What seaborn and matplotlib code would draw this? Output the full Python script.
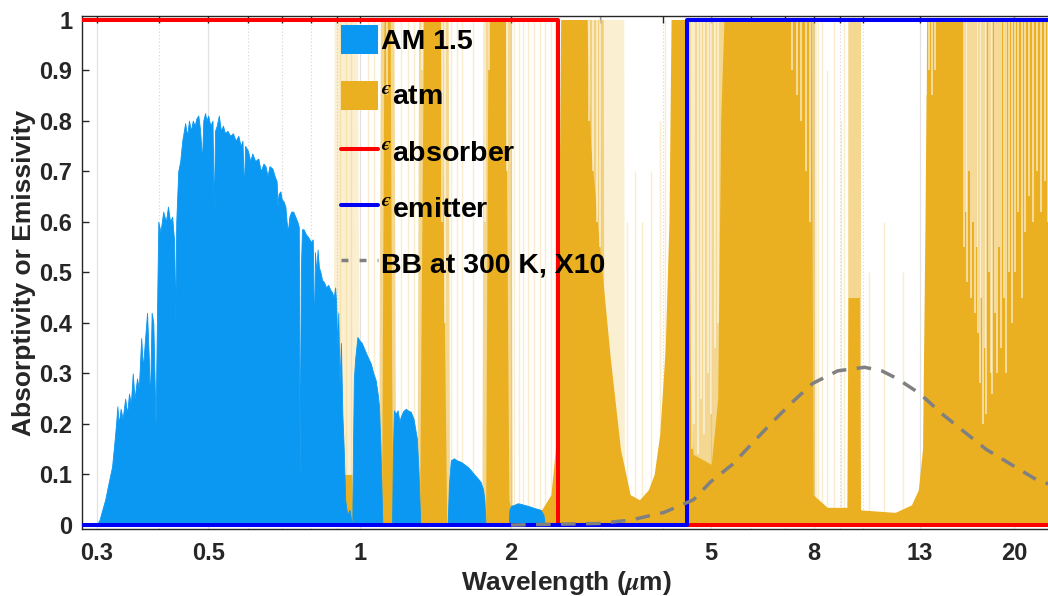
import numpy as np
import matplotlib
matplotlib.use("Agg")
import matplotlib.pyplot as plt
import seaborn as sns
from matplotlib.patches import Patch
from matplotlib.lines import Line2D

# ---------------- data ----------------
am_wl = [0.280, 0.300, 0.304, 0.312, 0.318, 0.322, 0.326, 0.328, 0.330, 0.332, 0.335, 0.338,
         0.342, 0.345, 0.348, 0.351, 0.354, 0.357, 0.361, 0.364, 0.368, 0.371, 0.374, 0.378,
         0.381, 0.383, 0.386, 0.389, 0.391, 0.393, 0.396, 0.398, 0.402, 0.407, 0.412, 0.416,
         0.420, 0.424, 0.428, 0.430, 0.432, 0.436, 0.440, 0.444, 0.450, 0.454, 0.458, 0.462,
         0.466, 0.470, 0.474, 0.478, 0.482, 0.486, 0.489, 0.493, 0.496, 0.500, 0.505, 0.510,
         0.513, 0.516, 0.520, 0.525, 0.530, 0.535, 0.540, 0.546, 0.553, 0.560, 0.567, 0.574,
         0.580, 0.585, 0.589, 0.592, 0.600, 0.606, 0.612, 0.620, 0.629, 0.636, 0.644, 0.650,
         0.656, 0.662, 0.671, 0.678, 0.684, 0.687, 0.690, 0.696, 0.700, 0.706, 0.712, 0.716,
         0.720, 0.725, 0.731, 0.738, 0.745, 0.752, 0.757, 0.760, 0.764, 0.768, 0.774, 0.782,
         0.790, 0.800, 0.807, 0.812, 0.815, 0.820, 0.825, 0.830, 0.836, 0.842, 0.850, 0.858,
         0.866, 0.875, 0.882, 0.888, 0.894, 0.898, 0.903, 0.907, 0.912, 0.918, 0.924, 0.930,
         0.936, 0.945, 0.955, 0.962, 0.967, 0.970, 0.974, 0.980, 0.990, 1.000, 1.010, 1.020,
         1.035, 1.052, 1.065, 1.076, 1.086, 1.093, 1.100, 1.106, 1.110, 1.160, 1.165, 1.170,
         1.180, 1.190, 1.200, 1.207, 1.220, 1.235, 1.250, 1.264, 1.280, 1.290, 1.300, 1.310,
         1.320, 1.496, 1.505, 1.518, 1.540, 1.560, 1.590, 1.615, 1.640, 1.665, 1.690, 1.715,
         1.740, 1.760, 1.770, 1.780, 1.980, 1.985, 2.000, 2.030, 2.060, 2.090, 2.120, 2.160,
         2.220, 2.290, 2.320, 2.335, 23.6]
am_val = [0.0, 0.0, 0.01, 0.05, 0.09, 0.115, 0.17, 0.20, 0.235, 0.20, 0.23, 0.21,
          0.25, 0.22, 0.26, 0.24, 0.30, 0.25, 0.29, 0.27, 0.37, 0.31, 0.36, 0.42,
          0.33, 0.24, 0.42, 0.40, 0.30, 0.20, 0.45, 0.60, 0.58, 0.62, 0.60, 0.63,
          0.60, 0.61, 0.56, 0.40, 0.60, 0.70, 0.72, 0.76, 0.795, 0.77, 0.80, 0.78,
          0.80, 0.79, 0.805, 0.81, 0.78, 0.72, 0.80, 0.815, 0.80, 0.81, 0.79, 0.80,
          0.62, 0.78, 0.79, 0.81, 0.78, 0.79, 0.775, 0.78, 0.77, 0.775, 0.76, 0.77,
          0.75, 0.76, 0.66, 0.75, 0.74, 0.72, 0.735, 0.72, 0.725, 0.70, 0.715, 0.71,
          0.69, 0.71, 0.705, 0.69, 0.68, 0.63, 0.655, 0.66, 0.645, 0.64, 0.63, 0.60,
          0.58, 0.61, 0.62, 0.62, 0.61, 0.60, 0.59, 0.09, 0.50, 0.585, 0.585, 0.575,
          0.57, 0.56, 0.565, 0.36, 0.54, 0.50, 0.545, 0.51, 0.50, 0.485, 0.48, 0.47,
          0.475, 0.465, 0.46, 0.45, 0.47, 0.44, 0.35, 0.42, 0.28, 0.36, 0.22, 0.15,
          0.05, 0.02, 0.03, 0.01, 0.0, 0.15, 0.29, 0.33, 0.372, 0.365, 0.36, 0.35,
          0.335, 0.32, 0.30, 0.287, 0.26, 0.234, 0.155, 0.06, 0.0, 0.0, 0.15, 0.227,
          0.22, 0.227, 0.205, 0.214, 0.225, 0.23, 0.226, 0.224, 0.21, 0.19, 0.17, 0.10,
          0.0, 0.0, 0.08, 0.128, 0.132, 0.128, 0.125, 0.12, 0.115, 0.108, 0.10, 0.093,
          0.085, 0.07, 0.05, 0.0, 0.0, 0.03, 0.038, 0.04, 0.043, 0.042, 0.04, 0.038,
          0.034, 0.03, 0.02, 0.0, 0.0]

# atmospheric emissivity: opaque (solid) level
atm_wl = [0.28, 0.895, 0.900, 0.965, 0.970, 1.105, 1.112, 1.118, 1.150, 1.158, 1.165,
          1.315, 1.325, 1.340, 1.450, 1.470, 1.490, 1.780, 1.790, 1.800, 1.950, 1.965,
          1.980, 2.000, 2.300, 2.400, 2.450, 2.490, 2.510, 2.830, 2.880, 3.000, 3.150,
          3.300, 3.450, 3.600, 3.750, 3.850, 3.950, 4.050, 4.120, 4.160, 4.500, 4.540,
          4.600, 5.000, 5.150, 5.220, 5.300, 7.900, 7.970, 8.500, 9.300, 9.350, 9.850,
          9.900, 11.60, 12.50, 12.90, 13.15, 13.30, 13.40, 23.6]
atm_val = [0.0, 0.0, 0.10, 0.10, 0.0, 0.0, 0.5, 1.0, 1.0, 0.3, 0.0,
           0.0, 0.4, 1.0, 1.0, 0.5, 0.0, 0.0, 0.5, 1.0, 1.0, 0.5,
           0.05, 0.03, 0.03, 0.06, 0.15, 0.6, 1.0, 1.0, 0.75, 0.55, 0.33,
           0.15, 0.06, 0.05, 0.07, 0.10, 0.18, 0.35, 0.6, 1.0, 1.0, 0.3,
           0.14, 0.12, 0.25, 0.8, 1.0, 1.0, 0.06, 0.035, 0.035, 0.45, 0.45,
           0.03, 0.025, 0.04, 0.07, 0.15, 0.6, 1.0, 1.0]

# atmospheric emissivity: dense line forest (upper envelope)
atm_dense_wl = [0.28, 1.09, 1.10, 1.17, 1.18, 1.30, 1.31, 1.50, 1.51, 1.75, 1.76, 2.00,
                2.01, 2.80, 2.81, 3.05, 3.06, 4.45, 4.46, 5.35, 5.36, 7.10, 7.11, 8.00,
                8.01, 9.33, 9.34, 9.90, 9.91, 23.6]
atm_dense_val = [0, 0, 1, 1, 0, 0, 1, 1, 0, 0, 1, 1,
                 0, 0, 1, 1, 0, 0, 1, 1, 0, 0, 1, 1,
                 0, 0, 1, 1, 0, 0]

# atmospheric emissivity: faint weak-line haze (upper envelope)
atm_sparse_wl = [0.28, 0.885, 0.890, 0.990, 1.000, 2.820, 2.830, 3.350, 3.360, 7.800, 7.810,
                 8.100, 8.110, 23.6]
atm_sparse_val = [0, 0, 1, 1, 0, 0, 1, 1, 0, 0, 1,
                  1, 0, 0]

# narrow transparent gaps inside absorbing bands (wavelength, lowest emissivity)
gap_wl = [1.135, 1.33, 1.46, 1.48, 1.775, 1.81, 1.96, 2.86, 2.91, 2.96, 3.01,
          4.58, 4.63, 4.70, 4.76, 4.84, 4.92, 5.00, 5.08, 5.16,
          7.25, 7.40, 7.55, 7.70, 7.85,
          13.20, 13.35, 13.55, 13.75, 13.95,
          15.90, 16.02, 16.15, 16.30, 16.42, 16.58, 16.70, 16.85, 16.97, 17.10, 17.22,
          17.35, 17.50, 17.62, 17.80, 17.95, 18.10, 18.30, 18.45, 18.65, 18.85, 19.10,
          19.30, 19.55, 19.80, 20.10, 20.40, 20.70, 21.00, 21.40, 21.80, 22.20, 22.60,
          23.00, 23.40]
gap_low = [0.85, 0.9, 0.6, 0.4, 0.6, 0.9, 0.7, 0.8, 0.7, 0.6, 0.55,
           0.15, 0.2, 0.14, 0.25, 0.18, 0.3, 0.22, 0.35, 0.4,
           0.9, 0.85, 0.8, 0.7, 0.6,
           0.9, 0.85, 0.9, 0.85, 0.9,
           0.55, 0.62, 0.48, 0.7, 0.45, 0.6, 0.42, 0.55, 0.38, 0.28, 0.45,
           0.2, 0.35, 0.22, 0.5, 0.3, 0.26, 0.42, 0.3, 0.55, 0.35, 0.45,
           0.3, 0.5, 0.4, 0.5, 0.62, 0.45, 0.58, 0.65, 0.6, 0.7, 0.62,
           0.68, 0.6]

# isolated weak absorption lines in the windows (wavelength, top emissivity)
line_wl = [0.915, 0.94, 0.96, 1.04, 1.07, 1.21, 1.25, 1.28, 1.52, 1.56, 1.60, 1.68,
           2.03, 2.07, 2.11, 2.16, 2.22, 2.28, 2.34, 2.40, 2.44,
           3.40, 3.52, 3.65, 3.80, 3.95, 4.05,
           8.15, 8.30, 8.50, 8.75, 9.05, 9.20, 10.3, 11.0, 12.0]
line_top = [1, 1, 1, 1, 1, 1, 1, 1, 1, 1, 1, 1,
            1, 1, 1, 1, 1, 1, 1, 1, 1,
            0.6, 0.7, 0.6, 0.7, 0.8, 1,
            1, 1, 0.9, 1, 0.8, 1, 0.5, 0.6, 0.5]

absorber_wl = [0.28, 2.48, 2.48, 23.6]
absorber_val = [1.0, 1.0, 0.0, 0.0]
emitter_wl = [0.28, 4.48, 4.48, 23.6]
emitter_val = [0.0, 0.0, 1.0, 1.0]

bb_wl = [2.0, 2.98, 3.47, 4.03, 4.61, 4.98, 5.51, 6.01, 6.56, 7.19, 7.95, 8.92,
         10.09, 10.91, 11.69, 12.99, 14.37, 15.89, 17.58, 19.71, 22.12, 23.6]
bb_val = [0.0, 0.003, 0.010, 0.025, 0.050, 0.085, 0.120, 0.160, 0.200, 0.240, 0.280, 0.305,
          0.312, 0.305, 0.290, 0.260, 0.220, 0.185, 0.150, 0.120, 0.090, 0.080]

xtick_vals = [0.3, 0.4, 0.5, 0.6, 0.7, 0.8, 0.9, 1, 2, 3, 4, 5, 6, 7, 8, 9, 10, 13, 20]
xtick_labeled = [0.3, 0.5, 1, 2, 5, 8, 13, 20]
ytick_vals = [0, 0.1, 0.2, 0.3, 0.4, 0.5, 0.6, 0.7, 0.8, 0.9, 1]
ytick_labels = ["0", "0.1", "0.2", "0.3", "0.4", "0.5", "0.6", "0.7", "0.8", "0.9", "1"]

legend_labels = ["AM 1.5", r"$^{ϵ}$atm", r"$^{ϵ}$absorber", r"$^{ϵ}$emitter", "BB at 300 K, X10"]

# ---------------- styling ----------------
sns.set_theme(style="white")
plt.rcParams["font.family"] = ["Liberation Sans", "DejaVu Sans"]
plt.rcParams["font.weight"] = "bold"
plt.rcParams["mathtext.fontset"] = "stix"

C_AM = "#0B98F2"
C_ATM = "#EBB022"
C_ABS = "#FF0000"
C_EMI = "#0000F5"
C_BB = "#808080"
C_TXT = "#262626"

fig = plt.figure(figsize=(10.48, 5.96), dpi=100)
ax = fig.add_axes([0.0782, 0.1124, 0.9240, 0.8607])
ax.set_xscale("log")
ax.set_xlim(0.2806, 23.6)
ax.set_ylim(-0.0079, 1.0069)

# grid lines (below everything)
for v in xtick_vals:
    if v in xtick_labeled:
        ax.axvline(v, color="#E2E2E2", lw=0.9, zorder=0.3)
    else:
        ax.axvline(v, color="#D5D5D5", lw=0.8, ls=(0, (1, 2)), zorder=0.3)

# atmosphere
ax.fill_between(atm_sparse_wl, 0, atm_sparse_val, color=C_ATM, alpha=0.2, lw=0, zorder=1)
ax.vlines(line_wl, 0, line_top, color=C_ATM, alpha=0.22, lw=1.0, zorder=1.05)
ax.fill_between(atm_dense_wl, 0, atm_dense_val, color=C_ATM, alpha=0.5, lw=0, zorder=1.1)
ax.fill_between(atm_wl, 0, atm_val, color=C_ATM, lw=0, zorder=1.2)
ax.vlines(gap_wl, gap_low, 1.01, color="white", alpha=0.7, lw=1.1, zorder=1.3)

# AM 1.5 spectrum
ax.fill_between(am_wl, 0, am_val, color=C_AM, lw=0.6, edgecolor=C_AM, zorder=2)

# absorber / emitter / blackbody through seaborn
sns.lineplot(x=absorber_wl, y=absorber_val, ax=ax, color=C_ABS, sort=False,
             estimator=None, zorder=3)
ax.lines[-1].set_linewidth(2.9)
sns.lineplot(x=emitter_wl, y=emitter_val, ax=ax, color=C_EMI, sort=False,
             estimator=None, zorder=3.1)
ax.lines[-1].set_linewidth(2.9)
sns.lineplot(x=bb_wl, y=bb_val, ax=ax, color=C_BB, sort=False,
             estimator=None, zorder=3.2)
ax.lines[-1].set_linewidth(2.5)
ax.lines[-1].set_linestyle((0, (4.2, 3.0)))

# ticks
ax.set_xticks(xtick_vals)
ax.set_xticklabels([("%g" % v) if v in xtick_labeled else "" for v in xtick_vals])
ax.xaxis.set_minor_locator(matplotlib.ticker.NullLocator())
ax.set_yticks(ytick_vals)
ax.set_yticklabels(ytick_labels)
ax.tick_params(axis="both", which="major", direction="in", length=5, width=1,
               color=C_TXT, labelsize=17, labelcolor=C_TXT)
ax.tick_params(axis="x", top=True, pad=9)
ax.tick_params(axis="y", left=True, right=False, pad=7)
for lab in ax.get_xticklabels() + ax.get_yticklabels():
    lab.set_fontweight("bold")

for s in ["left", "bottom", "top"]:
    ax.spines[s].set_color(C_TXT)
    ax.spines[s].set_linewidth(1.0)
ax.spines["right"].set_visible(False)

ax.set_xlabel(r"Wavelength ($\mu$m)", fontsize=19, fontweight="bold", color=C_TXT, labelpad=3)
ax.set_ylabel("Absorptivity or Emissivity", fontsize=19, fontweight="bold", color=C_TXT, labelpad=2)

# legend
handles = [
    Patch(facecolor=C_AM, edgecolor="none"),
    Patch(facecolor=C_ATM, edgecolor="none"),
    Line2D([0], [0], color=C_ABS, lw=2.9),
    Line2D([0], [0], color=C_EMI, lw=2.9),
    Line2D([0], [0], color=C_BB, lw=2.5, linestyle=(0, (2.0, 3.2))),
]
leg = ax.legend(handles, legend_labels, loc="upper left", bbox_to_anchor=(0.325, 0.958),
                bbox_transform=fig.transFigure, frameon=False,
                handlelength=1.3, handleheight=1.2, handletextpad=0.12, labelspacing=0.9,
                borderpad=0.0, borderaxespad=0.0, prop={"weight": "bold", "size": 20.5})
for t in leg.get_texts():
    t.set_color("black")
leg.set_zorder(5)

fig.savefig("out.png", dpi=100)
